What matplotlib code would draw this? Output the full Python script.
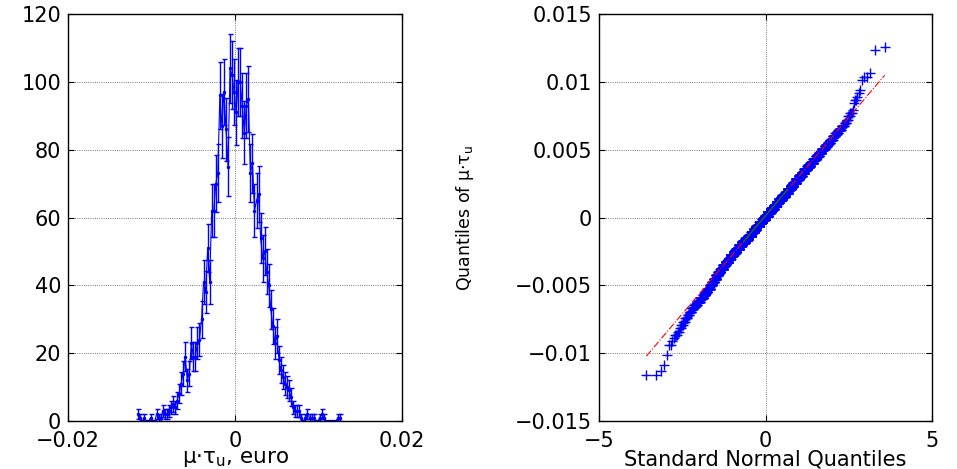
import numpy as np
import matplotlib
matplotlib.use('Agg')
import matplotlib.pyplot as plt
from statistics import NormalDist

# histogram of mu*tau_u (100 bins between the sample min and max)
data_min = -0.0117
data_max = 0.0127
counts = [2, 1, 0, 1, 0, 0, 1, 0, 0, 2,
          1, 1, 3, 2, 2, 3, 4, 5, 4, 6,
          8, 11, 14, 19, 12, 14, 23, 19, 19, 23,
          24, 30, 41, 38, 51, 41, 62, 62, 70, 73,
          96, 87, 97, 86, 75, 104, 102, 97, 91, 100,
          100, 93, 85, 93, 95, 73, 76, 62, 65, 67,
          54, 48, 50, 44, 40, 33, 28, 23, 25, 18,
          15, 13, 11, 10, 9, 7, 4, 3, 3, 3,
          1, 0, 1, 2, 1, 1, 1, 0, 0, 1,
          2, 1, 0, 0, 0, 0, 0, 0, 1, 1]

left_xticks = [-0.02, 0, 0.02]
left_xticklabels = ['\u22120.02', '0', '0.02']
left_yticks = [0, 20, 40, 60, 80, 100, 120]
right_xticks = [-5, 0, 5]
right_xticklabels = ['\u22125', '0', '5']
right_yticks = [-0.015, -0.01, -0.005, 0, 0.005, 0.01, 0.015]
right_yticklabels = ['\u22120.015', '\u22120.01', '\u22120.005', '0', '0.005', '0.01', '0.015']

counts = np.array(counts)
width = (data_max - data_min) / len(counts)
centers = data_min + width * (np.arange(len(counts)) + 0.5)
errors = np.sqrt(counts)

# sample rebuilt from the histogram, for the QQ plot
sample = np.sort(np.repeat(centers, counts))
n = len(sample)
nd = NormalDist()
z = np.array([nd.inv_cdf((k - 0.5) / n) for k in range(1, n + 1)])
q1y, q3y = np.percentile(sample, [25, 75])
q1x, q3x = nd.inv_cdf(0.25), nd.inv_cdf(0.75)
slope = (q3y - q1y) / (q3x - q1x)
icpt = q1y - slope * q1x

plt.rcParams['font.family'] = ['DejaVu Sans']
plt.rcParams['font.size'] = 15
plt.rcParams['xtick.direction'] = 'in'
plt.rcParams['ytick.direction'] = 'in'
plt.rcParams['xtick.top'] = True
plt.rcParams['ytick.right'] = True
plt.rcParams['axes.linewidth'] = 1.0

fig = plt.figure(figsize=(9.57, 4.69), dpi=100)
ax1 = fig.add_axes([0.0711, 0.1023, 0.349, 0.8678])
ax2 = fig.add_axes([0.6259, 0.1023, 0.348, 0.8678])

ax1.errorbar(centers, counts, yerr=errors, color='blue', marker='.', ms=3,
             lw=0.8, elinewidth=1.0, capsize=1.8, capthick=1.0)
ax1.set_xlim(-0.02, 0.02)
ax1.set_ylim(0, 120)
ax1.set_xticks(left_xticks)
ax1.set_xticklabels(left_xticklabels)
ax1.set_yticks(left_yticks)
ax1.set_xlabel('\u03bc\u00b7\u03c4$_\\mathregular{u}$, euro', fontsize=15.5, labelpad=-1)

ax2.plot(z, sample, '+', color='blue', ms=7, mew=1.0)
zz = np.array([z[0], z[-1]])
ax2.plot(zz, icpt + slope * zz, '-.', color='red', lw=0.8)
zq = np.array([q1x, q3x])
ax2.plot(zq, icpt + slope * zq, '-', color='green', lw=0.8)
ax2.set_xlim(-5, 5)
ax2.set_ylim(-0.015, 0.015)
ax2.set_xticks(right_xticks)
ax2.set_xticklabels(right_xticklabels)
ax2.set_yticks(right_yticks)
ax2.set_yticklabels(right_yticklabels)
ax2.set_xlabel('Standard Normal Quantiles', fontsize=15, labelpad=-1)
ax2.set_ylabel('Quantiles of \u03bc\u00b7\u03c4$_\\mathregular{u}$', fontsize=12.5)
ax2.yaxis.set_label_coords(-0.37, 0.5)

for ax in (ax1, ax2):
    ax.grid(True, linestyle=':', color='black', linewidth=0.6, alpha=0.7)
    ax.tick_params(length=4, width=0.8)
    ax.tick_params(axis='x', pad=7)
    ax.tick_params(axis='y', pad=5)

fig.savefig('out.png', dpi=100)
